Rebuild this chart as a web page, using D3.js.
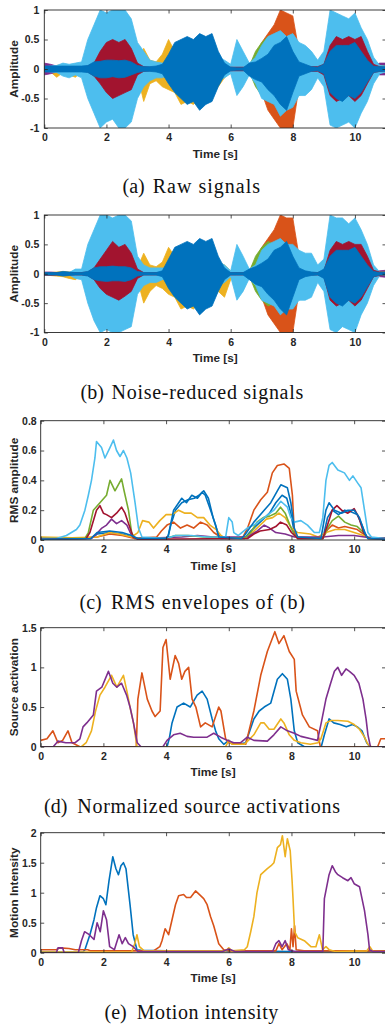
<!DOCTYPE html>
<html><head><meta charset="utf-8">
<script src="https://cdn.jsdelivr.net/npm/d3@7"></script>
<style>body{margin:0;background:#fff}svg{display:block}</style>
</head><body>
<script>
// ---------- shared ----------
const xTicks = [0, 2, 4, 6, 8, 10];
// envelope sample grid for (a),(b): 0,0.2,...,11 s (56 samples)
const tGrid = d3.range(56).map(i => +(i * 0.2).toFixed(1));

// ---------- (a) Raw signals : upper / lower envelopes ----------
const aLightBlueUp = [0.04,0.05,0.06,0.10,0.08,0.10,0.12, 0.50,0.75,1.00,0.95,1.00,1.00,1.00,0.85,0.45,0.30,0.15,0.12,0.10, 0.10,0.30,0.30,0.30,0.30,0.30,0.30,0.30,0.20,0.15,0.08,0.50,0.30,0.10, 0.20,0.40,0.55,0.60,0.65,0.55,0.60,0.45,0.40,0.30,0.15,0.30,1.00,0.95,0.90,0.85,0.95,0.70,0.50,0.20,0.06,0.05];
const aLightBlueLo = [-0.04,-0.05,-0.06,-0.12,-0.15,-0.10,-0.15, -0.50,-0.75,-1.00,-0.90,-0.85,-1.00,-1.00,-0.90,-0.50,-0.30,-0.20,-0.15,-0.15, -0.10,-0.30,-0.30,-0.30,-0.30,-0.30,-0.30,-0.30,-0.20,-0.15,-0.08,-0.45,-0.30,-0.10, -0.25,-0.50,-0.55,-0.60,-0.80,-0.70,-0.65,-0.45,-0.45,-0.35,-0.15,-0.30,-0.95,-1.00,-0.95,-0.90,-1.00,-0.75,-0.55,-0.25,-0.08,-0.05];
const aDarkRedUp = [0.03,0.03,0.03,0.03,0.03,0.03,0.03, 0.05,0.10,0.30,0.45,0.50,0.45,0.50,0.35,0.10,0.04,0.03,0.03,0.03, 0.03,0.03,0.03,0.03,0.03,0.03,0.03,0.03,0.03,0.03,0.03,0.03,0.03,0.03, 0.04,0.08,0.12,0.15,0.15,0.15,0.10,0.06,0.05,0.04,0.04,0.08,0.40,0.55,0.50,0.55,0.50,0.55,0.30,0.08,0.04,0.03];
const aDarkRedLo = [-0.03,-0.03,-0.03,-0.03,-0.03,-0.03,-0.03, -0.05,-0.12,-0.25,-0.40,-0.50,-0.45,-0.40,-0.35,-0.10,-0.04,-0.03,-0.03,-0.03, -0.03,-0.03,-0.03,-0.03,-0.03,-0.03,-0.03,-0.03,-0.03,-0.03,-0.03,-0.03,-0.03,-0.03, -0.04,-0.08,-0.12,-0.15,-0.15,-0.15,-0.10,-0.06,-0.05,-0.04,-0.04,-0.10,-0.45,-0.55,-0.50,-0.45,-0.55,-0.45,-0.25,-0.06,-0.04,-0.03];
const aBlueUp = [0.05,0.05,0.05,0.05,0.05,0.05,0.05, 0.06,0.12,0.13,0.15,0.15,0.14,0.15,0.12,0.06,0.04,0.04,0.05,0.08, 0.25,0.45,0.50,0.55,0.50,0.60,0.55,0.60,0.30,0.10,0.03,0.02,0.02,0.10, 0.12,0.18,0.25,0.40,0.45,0.55,0.30,0.12,0.08,0.04,0.03,0.08,0.30,0.40,0.40,0.40,0.45,0.30,0.15,0.05,0.04,0.04];
const aBlueLo = [-0.05,-0.05,-0.05,-0.05,-0.05,-0.05,-0.05, -0.06,-0.12,-0.15,-0.15,-0.13,-0.15,-0.14,-0.10,-0.06,-0.04,-0.04,-0.05,-0.08, -0.25,-0.40,-0.50,-0.60,-0.55,-0.70,-0.60,-0.55,-0.30,-0.10,-0.03,-0.02,-0.02,-0.12, -0.18,-0.22,-0.35,-0.45,-0.60,-0.70,-0.40,-0.12,-0.08,-0.04,-0.03,-0.08,-0.40,-0.50,-0.55,-0.45,-0.50,-0.40,-0.22,-0.06,-0.04,-0.04];
const aYellowUp = [0.03,0.05,0.06,0.08,0.06,0.05,0.04, 0.04,0.04,0.10,0.10,0.10,0.10,0.10,0.10,0.10,0.35,0.15,0.12,0.25, 0.50,0.30,0.30,0.30,0.30,0.30,0.30,0.30,0.20,0.10,0.05,0.04,0.04,0.04, 0.10,0.20,0.30,0.30,0.30,0.30,0.25,0.15,0.10,0.05,0.04,0.05,0.10,0.10,0.10,0.10,0.10,0.10,0.05,0.04,0.04,0.04];
const aYellowLo = [-0.04,-0.05,-0.14,-0.06,-0.10,-0.14,-0.05, -0.04,-0.04,-0.10,-0.10,-0.10,-0.10,-0.10,-0.10,-0.10,-0.55,-0.25,-0.20,-0.30, -0.35,-0.40,-0.60,-0.55,-0.60,-0.50,-0.40,-0.45,-0.30,-0.15,-0.05,-0.04,-0.04,-0.04, -0.10,-0.20,-0.30,-0.30,-0.30,-0.30,-0.30,-0.45,-0.40,-0.10,-0.04,-0.05,-0.10,-0.10,-0.10,-0.10,-0.10,-0.10,-0.05,-0.04,-0.04,-0.04];
const aOrangeUp = [0.03,0.03,0.03,0.03,0.03,0.03,0.03, 0.03,0.03,0.03,0.03,0.03,0.03,0.03,0.03,0.03,0.03,0.03,0.03,0.03, 0.03,0.03,0.03,0.03,0.03,0.03,0.03,0.03,0.03,0.03,0.03,0.03,0.03,0.05, 0.25,0.45,0.60,0.75,1.00,0.95,0.90,0.30,0.08,0.03,0.03,0.03,0.03,0.03,0.03,0.03,0.03,0.03,0.03,0.03,0.03,0.03];
const aOrangeLo = [-0.03,-0.03,-0.03,-0.03,-0.03,-0.03,-0.03, -0.03,-0.03,-0.03,-0.03,-0.03,-0.03,-0.03,-0.03,-0.03,-0.03,-0.03,-0.03,-0.03, -0.03,-0.03,-0.03,-0.03,-0.03,-0.03,-0.03,-0.03,-0.03,-0.03,-0.03,-0.03,-0.03,-0.05, -0.20,-0.40,-0.70,-0.85,-1.00,-1.00,-1.00,-0.30,-0.08,-0.03,-0.03,-0.03,-0.03,-0.03,-0.03,-0.03,-0.03,-0.03,-0.03,-0.03,-0.03,-0.03];
const aGreenAmp = [0.04,0.04,0.04,0.04,0.04,0.04,0.04, 0.04,0.20,0.45,0.45,0.45,0.45,0.45,0.50,0.20,0.04,0.04,0.04,0.04, 0.10,0.20,0.20,0.20,0.20,0.20,0.20,0.20,0.10,0.05,0.04,0.04,0.04,0.05, 0.30,0.45,0.55,0.50,0.50,0.40,0.30,0.10,0.05,0.04,0.04,0.05,0.30,0.30,0.30,0.30,0.30,0.30,0.10,0.06,0.06,0.05];
const aPurpleAmp = [0.10,0.08,0.05,0.05,0.04,0.03,0.03, 0.03,0.05,0.20,0.20,0.20,0.20,0.20,0.15,0.05,0.03,0.03,0.03,0.03, 0.03,0.03,0.03,0.03,0.03,0.03,0.03,0.03,0.03,0.03,0.03,0.03,0.03,0.03, 0.03,0.05,0.05,0.05,0.05,0.05,0.03,0.03,0.03,0.03,0.03,0.03,0.05,0.10,0.10,0.10,0.10,0.10,0.05,0.06,0.10,0.10];

// ---------- (b) Noise-reduced signals ----------
const bLightBlueUp = [0.01,0.01,0.01,0.01,0.02,0.08,0.08, 0.50,0.75,1.00,1.00,0.95,1.00,1.00,0.90,0.30,0.15,0.10,0.10,0.10, 0.10,0.30,0.30,0.30,0.30,0.30,0.30,0.30,0.20,0.15,0.05,0.50,0.30,0.08, 0.15,0.40,0.50,0.55,0.60,0.50,0.50,0.40,0.35,0.35,0.15,0.25,1.00,0.95,0.95,0.85,0.95,0.75,0.50,0.15,0.03,0.02];
const bLightBlueLo = [-0.01,-0.01,-0.01,-0.01,-0.02,-0.08,-0.10, -0.50,-0.80,-1.00,-0.95,-1.00,-1.00,-0.95,-0.90,-0.35,-0.20,-0.15,-0.15,-0.10, -0.10,-0.30,-0.30,-0.30,-0.30,-0.30,-0.30,-0.30,-0.20,-0.15,-0.05,-0.45,-0.30,-0.08, -0.20,-0.45,-0.50,-0.55,-0.70,-0.60,-0.60,-0.45,-0.45,-0.40,-0.15,-0.30,-0.95,-1.00,-0.90,-0.95,-1.00,-0.70,-0.50,-0.20,-0.03,-0.02];
const bDarkRedUp = [0.02,0.02,0.02,0.02,0.02,0.02,0.02, 0.03,0.10,0.25,0.40,0.55,0.45,0.50,0.35,0.08,0.02,0.02,0.02,0.02, 0.02,0.02,0.02,0.02,0.02,0.02,0.02,0.02,0.02,0.02,0.02,0.02,0.02,0.02, 0.04,0.08,0.12,0.15,0.15,0.15,0.10,0.05,0.03,0.02,0.02,0.05,0.40,0.55,0.50,0.55,0.50,0.50,0.30,0.06,0.03,0.02];
const bDarkRedLo = [-0.02,-0.02,-0.02,-0.02,-0.02,-0.02,-0.02, -0.03,-0.10,-0.25,-0.35,-0.40,-0.45,-0.38,-0.30,-0.08,-0.02,-0.02,-0.02,-0.02, -0.02,-0.02,-0.02,-0.02,-0.02,-0.02,-0.02,-0.02,-0.02,-0.02,-0.02,-0.02,-0.02,-0.02, -0.04,-0.08,-0.12,-0.15,-0.15,-0.15,-0.10,-0.05,-0.03,-0.02,-0.02,-0.05,-0.45,-0.55,-0.50,-0.45,-0.55,-0.45,-0.25,-0.05,-0.03,-0.02];
const bBlueUp = [0.02,0.02,0.02,0.04,0.03,0.02,0.02, 0.04,0.10,0.12,0.12,0.13,0.12,0.12,0.10,0.04,0.02,0.02,0.02,0.05, 0.25,0.45,0.50,0.55,0.50,0.60,0.55,0.60,0.30,0.10,0.02,0.02,0.02,0.08, 0.12,0.18,0.25,0.40,0.45,0.55,0.30,0.10,0.05,0.03,0.02,0.08,0.30,0.40,0.40,0.40,0.45,0.30,0.15,0.04,0.02,0.02];
const bBlueLo = [-0.02,-0.02,-0.02,-0.04,-0.03,-0.02,-0.02, -0.04,-0.10,-0.12,-0.13,-0.12,-0.12,-0.13,-0.10,-0.04,-0.02,-0.02,-0.02,-0.05, -0.25,-0.40,-0.50,-0.60,-0.55,-0.70,-0.60,-0.55,-0.30,-0.10,-0.02,-0.02,-0.02,-0.10, -0.18,-0.22,-0.35,-0.45,-0.60,-0.70,-0.40,-0.10,-0.05,-0.03,-0.02,-0.08,-0.40,-0.50,-0.55,-0.45,-0.50,-0.40,-0.22,-0.05,-0.02,-0.02];
const bYellowUp = [0.01,0.02,0.03,0.04,0.03,0.02,0.01, 0.02,0.02,0.08,0.08,0.08,0.08,0.08,0.08,0.10,0.35,0.15,0.12,0.20, 0.45,0.30,0.30,0.30,0.30,0.30,0.30,0.30,0.20,0.15,0.05,0.02,0.02,0.03, 0.10,0.20,0.30,0.30,0.30,0.30,0.25,0.15,0.10,0.04,0.02,0.04,0.08,0.08,0.08,0.08,0.08,0.08,0.04,0.02,0.02,0.02];
const bYellowLo = [-0.01,-0.03,-0.04,-0.05,-0.08,-0.10,-0.02, -0.02,-0.02,-0.08,-0.08,-0.08,-0.08,-0.08,-0.08,-0.10,-0.50,-0.30,-0.20,-0.25, -0.35,-0.40,-0.60,-0.55,-0.60,-0.50,-0.40,-0.45,-0.30,-0.40,-0.10,-0.02,-0.02,-0.03, -0.10,-0.20,-0.30,-0.30,-0.30,-0.30,-0.30,-0.45,-0.35,-0.08,-0.02,-0.04,-0.08,-0.08,-0.08,-0.08,-0.08,-0.08,-0.04,-0.02,-0.02,-0.02];
const bOrangeUp = [0.02,0.02,0.02,0.02,0.02,0.02,0.02, 0.02,0.02,0.02,0.02,0.02,0.02,0.02,0.02,0.02,0.02,0.02,0.02,0.02, 0.02,0.02,0.02,0.02,0.02,0.02,0.02,0.02,0.02,0.02,0.02,0.02,0.02,0.04, 0.25,0.45,0.60,0.75,1.00,0.95,0.95,0.30,0.06,0.02,0.02,0.02,0.02,0.02,0.02,0.02,0.02,0.02,0.02,0.02,0.02,0.02];
const bOrangeLo = [-0.02,-0.02,-0.02,-0.02,-0.02,-0.02,-0.02, -0.02,-0.02,-0.02,-0.02,-0.02,-0.02,-0.02,-0.02,-0.02,-0.02,-0.02,-0.02,-0.02, -0.02,-0.02,-0.02,-0.02,-0.02,-0.02,-0.02,-0.02,-0.02,-0.02,-0.02,-0.02,-0.02,-0.04, -0.20,-0.40,-0.70,-0.85,-1.00,-1.00,-1.00,-0.30,-0.06,-0.02,-0.02,-0.02,-0.02,-0.02,-0.02,-0.02,-0.02,-0.02,-0.02,-0.02,-0.02,-0.02];
const bGreenAmp = [0.02,0.02,0.02,0.02,0.02,0.02,0.02, 0.03,0.20,0.45,0.45,0.45,0.45,0.45,0.50,0.20,0.02,0.02,0.02,0.02, 0.10,0.20,0.20,0.20,0.20,0.20,0.20,0.20,0.10,0.05,0.02,0.02,0.02,0.04, 0.30,0.45,0.55,0.50,0.50,0.40,0.30,0.10,0.04,0.02,0.02,0.04,0.30,0.30,0.30,0.30,0.30,0.30,0.10,0.04,0.03,0.03];
const bPurpleAmp = [0.03,0.03,0.02,0.02,0.02,0.02,0.02, 0.02,0.05,0.20,0.20,0.20,0.20,0.20,0.15,0.05,0.02,0.02,0.02,0.02, 0.02,0.02,0.02,0.02,0.02,0.02,0.02,0.02,0.02,0.02,0.02,0.02,0.02,0.02, 0.02,0.05,0.05,0.05,0.05,0.05,0.02,0.02,0.02,0.02,0.02,0.02,0.05,0.10,0.10,0.10,0.10,0.10,0.04,0.04,0.05,0.06];

// ---------- (c) RMS envelopes : [time, value] ----------
const cBlue1 = [[0,0.005],[1.6,0.01],[1.8,0.04],[2.2,0.05],[2.6,0.04],[2.9,0.02],[3.1,0.01],[4.05,0.01],[4.15,0.1],[4.3,0.2],[4.5,0.25],[4.7,0.27],[4.9,0.28],[5.05,0.3],[5.2,0.33],[5.35,0.28],[5.5,0.15],[5.65,0.05],[5.75,0.01],[6.5,0.01],[6.7,0.06],[7.0,0.12],[7.3,0.18],[7.5,0.25],[7.7,0.3],[7.85,0.28],[7.98,0.18],[8.09,0.05],[8.2,0.01],[9.0,0.01],[9.15,0.15],[9.3,0.2],[9.5,0.17],[9.7,0.2],[9.9,0.19],[10.1,0.17],[10.25,0.1],[10.4,0.02],[11,0.005]];
const cOrange = [[0,0.015],[0.9,0.015],[1.1,0.01],[1.8,0.02],[2.2,0.04],[2.6,0.03],[3.0,0.01],[3.7,0.02],[3.85,0.06],[4.03,0.1],[4.24,0.12],[4.46,0.08],[4.67,0.1],[4.88,0.08],[5.1,0.12],[5.31,0.1],[5.52,0.05],[5.74,0.02],[6.0,0.01],[6.45,0.02],[6.6,0.08],[6.8,0.2],[7.02,0.27],[7.23,0.32],[7.39,0.45],[7.55,0.5],[7.76,0.51],[7.93,0.48],[8.03,0.3],[8.09,0.05],[8.2,0.01],[9.0,0.01],[9.15,0.07],[9.3,0.1],[9.5,0.08],[9.7,0.09],[9.9,0.08],[10.1,0.07],[10.3,0.04],[10.45,0.01],[11,0.01]];
const cYellow = [[0,0.02],[1.0,0.015],[1.8,0.02],[2.2,0.05],[2.5,0.04],[2.9,0.02],[3.1,0.05],[3.25,0.13],[3.45,0.12],[3.6,0.08],[3.8,0.13],[4.0,0.17],[4.2,0.17],[4.4,0.2],[4.6,0.18],[4.8,0.18],[5.0,0.15],[5.2,0.15],[5.4,0.1],[5.6,0.07],[5.75,0.03],[5.9,0.01],[6.6,0.02],[6.8,0.06],[7.0,0.1],[7.2,0.14],[7.4,0.15],[7.6,0.18],[7.8,0.15],[8.0,0.08],[8.2,0.05],[8.6,0.04],[8.85,0.02],[9.1,0.05],[9.4,0.07],[9.7,0.07],[10.0,0.05],[10.3,0.03],[10.5,0.01],[11,0.01]];
const cPurple = [[0,0.005],[1.6,0.01],[1.78,0.04],[1.95,0.08],[2.1,0.1],[2.26,0.14],[2.42,0.11],[2.58,0.13],[2.75,0.1],[2.9,0.03],[3.05,0.01],[4.5,0.02],[5.0,0.03],[5.5,0.02],[6.6,0.02],[6.9,0.06],[7.13,0.1],[7.3,0.08],[7.5,0.05],[7.8,0.04],[8.1,0.02],[9.0,0.02],[9.5,0.03],[10.0,0.03],[10.5,0.015],[11,0.015]];
const cGreen = [[0,0.01],[1.41,0.01],[1.52,0.05],[1.68,0.2],[1.89,0.25],[2.1,0.3],[2.21,0.4],[2.37,0.33],[2.58,0.41],[2.66,0.33],[2.8,0.2],[2.9,0.05],[3.0,0.01],[4.0,0.01],[4.3,0.03],[4.7,0.03],[5.2,0.02],[6.5,0.01],[6.7,0.05],[6.9,0.12],[7.1,0.15],[7.3,0.16],[7.5,0.18],[7.65,0.22],[7.8,0.18],[7.95,0.1],[8.1,0.03],[8.3,0.01],[9.0,0.01],[9.15,0.08],[9.3,0.13],[9.5,0.16],[9.7,0.12],[9.9,0.1],[10.1,0.09],[10.3,0.05],[10.45,0.01],[11,0.01]];
const cLightBlue = [[0,0.01],[0.5,0.01],[0.82,0.03],[1.14,0.07],[1.25,0.1],[1.41,0.2],[1.52,0.3],[1.62,0.4],[1.73,0.55],[1.78,0.66],[1.94,0.62],[2.05,0.55],[2.21,0.62],[2.32,0.67],[2.42,0.6],[2.53,0.56],[2.64,0.6],[2.75,0.55],[2.87,0.45],[3.01,0.25],[3.12,0.08],[3.23,0.02],[4.0,0.01],[4.3,0.03],[4.8,0.03],[5.3,0.02],[5.9,0.02],[6.0,0.15],[6.11,0.12],[6.16,0.05],[6.3,0.03],[6.59,0.08],[6.8,0.1],[7.13,0.15],[7.44,0.2],[7.66,0.26],[7.87,0.22],[7.98,0.15],[8.09,0.12],[8.3,0.13],[8.51,0.1],[8.73,0.05],[8.89,0.05],[9.0,0.15],[9.1,0.4],[9.2,0.5],[9.3,0.52],[9.48,0.47],[9.69,0.45],[9.85,0.4],[9.96,0.43],[10.12,0.38],[10.22,0.35],[10.33,0.2],[10.44,0.05],[10.55,0.02],[11,0.01]];
const cDarkRed = [[0,0.005],[1.45,0.01],[1.57,0.05],[1.78,0.2],[1.89,0.23],[2.0,0.18],[2.1,0.17],[2.26,0.15],[2.42,0.18],[2.58,0.22],[2.69,0.18],[2.85,0.08],[2.95,0.02],[3.1,0.005],[6.6,0.01],[6.8,0.04],[7.0,0.06],[7.3,0.07],[7.5,0.09],[7.65,0.12],[7.85,0.1],[8.0,0.05],[8.2,0.01],[9.0,0.01],[9.15,0.1],[9.3,0.2],[9.45,0.23],[9.6,0.2],[9.8,0.18],[10.0,0.21],[10.15,0.15],[10.3,0.05],[10.45,0.01],[11,0.005]];
const cBlue8 = [[0,0.005],[1.6,0.01],[1.8,0.05],[2.2,0.06],[2.6,0.05],[2.9,0.03],[3.1,0.01],[4.0,0.01],[4.07,0.03],[4.24,0.2],[4.5,0.28],[4.65,0.25],[4.82,0.3],[5.0,0.28],[5.15,0.32],[5.25,0.3],[5.42,0.2],[5.58,0.1],[5.68,0.02],[6.4,0.01],[6.5,0.03],[6.8,0.12],[7.13,0.2],[7.34,0.25],[7.55,0.33],[7.66,0.37],[7.87,0.35],[7.98,0.25],[8.09,0.08],[8.2,0.02],[8.94,0.01],[9.1,0.2],[9.2,0.25],[9.37,0.2],[9.6,0.18],[9.8,0.2],[10.0,0.2],[10.17,0.15],[10.33,0.05],[10.44,0.01],[11,0.005]];

// ---------- (d) Normalized source activations ----------
const dBlue = [[0,0],[4.03,0],[4.1,0.1],[4.19,0.3],[4.35,0.5],[4.56,0.55],[4.77,0.5],[4.99,0.65],[5.15,0.7],[5.31,0.6],[5.47,0.35],[5.58,0.2],[5.68,0.1],[5.84,0.03],[6.0,0.08],[6.1,0.04],[6.3,0.03],[6.54,0.05],[6.8,0.35],[6.97,0.45],[7.13,0.5],[7.34,0.55],[7.55,0.85],[7.71,0.92],[7.87,0.85],[7.98,0.6],[8.09,0.2],[8.2,0.05],[8.41,0],[8.95,0],[9.05,0.15],[9.2,0.35],[9.35,0.3],[9.55,0.28],[9.75,0.25],[9.95,0.28],[10.1,0.25],[10.25,0.2],[10.4,0.05],[10.5,0],[11,0]];
const dOrange = [[0,0.08],[0.2,0.1],[0.39,0.2],[0.55,0.05],[0.7,0.08],[0.87,0.2],[1.0,0.05],[1.25,0],[3.05,0],[3.1,0.6],[3.23,0.93],[3.4,0.6],[3.55,0.45],[3.65,0.38],[3.81,0.45],[3.9,1.25],[4.0,1.35],[4.13,0.85],[4.29,1.15],[4.4,1.05],[4.5,0.85],[4.6,0.95],[4.72,1.0],[4.83,0.6],[4.95,0.5],[5.1,0.25],[5.25,0.3],[5.47,0.25],[5.68,0.5],[5.75,0.45],[5.9,0.1],[6.0,0.05],[6.54,0.03],[6.8,0.45],[7.02,0.9],[7.23,1.2],[7.47,1.45],[7.6,1.3],[7.76,1.4],[7.93,1.2],[8.09,1.1],[8.15,0.7],[8.35,0.4],[8.57,0.25],[8.83,0.2],[8.92,0],[10.75,0],[10.85,0.1],[11,0.1]];
const dYellow = [[0,0],[1.3,0],[1.45,0.05],[1.62,0.2],[1.75,0.45],[1.89,0.65],[2.05,0.75],[2.26,0.9],[2.43,0.75],[2.64,0.9],[2.75,0.7],[2.85,0.5],[2.96,0.3],[3.07,0],[5.9,0],[6.0,0.08],[6.1,0.03],[6.5,0.03],[6.8,0.15],[7.02,0.3],[7.13,0.3],[7.29,0.22],[7.44,0.22],[7.66,0.35],[7.76,0.3],[7.93,0.15],[8.09,0.08],[8.3,0.05],[8.6,0.03],[8.85,0.05],[8.94,0.1],[9.1,0.3],[9.26,0.33],[9.48,0.33],[9.8,0.32],[10.0,0.28],[10.17,0.22],[10.33,0.12],[10.44,0.03],[10.55,0],[11,0]];
const dPurple = [[0,0],[0.4,0],[0.55,0.07],[0.8,0.05],[1.1,0.05],[1.25,0.1],[1.35,0.25],[1.47,0.3],[1.68,0.4],[1.78,0.7],[1.95,0.75],[2.16,0.95],[2.3,0.8],[2.43,0.75],[2.58,0.8],[2.74,0.65],[2.85,0.5],[2.96,0.3],[3.08,0.05],[3.2,0],[3.9,0],[4.03,0.08],[4.24,0.15],[4.45,0.17],[4.67,0.13],[4.88,0.12],[5.31,0.12],[5.52,0.17],[5.74,0.12],[5.95,0.08],[6.16,0.05],[6.38,0.05],[6.59,0.12],[6.8,0.08],[7.23,0.07],[7.44,0.15],[7.66,0.25],[7.87,0.2],[8.09,0.17],[8.3,0.13],[8.62,0.1],[8.83,0.08],[8.95,0.3],[9.1,0.6],[9.25,0.8],[9.37,0.95],[9.48,1.0],[9.6,0.9],[9.74,0.98],[9.85,0.95],[10.0,0.9],[10.15,0.8],[10.28,0.6],[10.38,0.35],[10.44,0.15],[10.52,0],[11,0]];

// ---------- (e) Motion intensity ----------
const eBlue = [[0,0.01],[1.35,0.01],[1.41,0.05],[1.57,0.3],[1.7,0.55],[1.78,0.75],[1.89,0.95],[2.0,0.9],[2.08,0.8],[2.18,1.2],[2.3,1.6],[2.4,1.4],[2.48,1.3],[2.56,1.45],[2.64,1.5],[2.72,1.4],[2.85,0.8],[2.95,0.3],[3.07,0.05],[3.2,0.04],[4,0.03],[6,0.03],[8,0.02],[11,0.02]];
const eOrange = [[0,0.05],[0.5,0.05],[0.6,0.08],[0.9,0.07],[1.1,0.05],[1.5,0.05],[1.6,0.03],[3.6,0.03],[3.8,0.1],[3.87,0.2],[3.97,0.4],[4.08,0.3],[4.19,0.55],[4.3,0.8],[4.4,0.95],[4.56,0.97],[4.65,0.92],[4.78,0.92],[4.94,1.03],[5.1,0.95],[5.2,0.9],[5.31,0.8],[5.42,0.6],[5.52,0.45],[5.68,0.15],[5.84,0.05],[6.0,0.03],[7.5,0.03],[7.6,0.15],[7.7,0.05],[7.85,0.15],[7.95,0.05],[8.0,0.4],[8.05,0.1],[8.1,0.45],[8.15,0.05],[8.4,0.03],[11,0.03]];
const eYellow = [[0,0.01],[2.9,0.01],[3.0,0.15],[3.07,0.3],[3.15,0.1],[3.3,0.03],[5.9,0.03],[6.0,0.08],[6.1,0.03],[6.5,0.05],[6.59,0.1],[6.7,0.35],[6.8,0.6],[6.9,1.0],[7.02,1.3],[7.23,1.4],[7.35,1.45],[7.44,1.5],[7.55,1.75],[7.65,1.8],[7.71,1.95],[7.8,1.6],[7.87,1.9],[7.96,1.7],[8.02,1.2],[8.05,0.9],[8.1,0.35],[8.2,0.25],[8.41,0.2],[8.62,0.1],[8.78,0.1],[8.89,0.3],[8.99,0.05],[9.1,0.1],[9.2,0.05],[9.4,0.02],[10.4,0.03],[10.5,0.1],[10.6,0.02],[11,0.02]];
const ePurple = [[0,0],[0.5,0],[0.55,0.08],[0.7,0.08],[0.75,0],[1.2,0],[1.3,0.2],[1.4,0.35],[1.55,0.3],[1.7,0.22],[1.8,0.5],[1.9,0.35],[2.0,0.7],[2.1,0.55],[2.2,0.1],[2.35,0.05],[2.5,0.3],[2.6,0.15],[2.7,0.25],[2.8,0.15],[2.95,0.1],[3.1,0.02],[5.8,0.02],[6.0,0.06],[6.2,0.02],[7.4,0.02],[7.5,0.15],[7.6,0.2],[7.7,0.1],[7.8,0.2],[7.9,0.05],[8.1,0.02],[9.0,0.02],[9.05,0.9],[9.2,1.3],[9.3,1.45],[9.4,1.35],[9.48,1.3],[9.63,1.25],[9.8,1.2],[9.9,1.25],[10.0,1.15],[10.17,1.1],[10.33,0.7],[10.44,0.3],[10.49,0.05],[10.6,0.02],[11,0.02]];

// ---------- drawing ----------
const COL = {blue:"#0072BD", orange:"#D95319", yellow:"#EDB120", purple:"#7E2F8E", green:"#77AC30", lightblue:"#4DBEEE", darkred:"#A2142F"};
const AX = "#262626";
const SANS = "'Liberation Sans', Arial, Helvetica, sans-serif";
const SERIF = "'Liberation Serif', 'Times New Roman', Times, serif";
const svg = d3.select("body").append("svg").attr("width", 385).attr("height", 1025);
const fmt = d => String(d);

function panel(p) {
  const x = d3.scaleLinear().domain([0, 11]).range([p.left, p.right]);
  const y = d3.scaleLinear().domain(p.yDomain).range([p.bottom, p.top]);
  const g = svg.append("g");
  svg.append("clipPath").attr("id", "clip" + p.id).append("rect")
    .attr("x", p.left).attr("y", p.top).attr("width", p.right - p.left).attr("height", p.bottom - p.top);
  const plot = g.append("g").attr("clip-path", `url(#clip${p.id})`);

  const axes = g.append("g").attr("font-family", SANS);
  axes.append("g").attr("transform", `translate(0,${p.bottom})`)
    .call(d3.axisBottom(x).tickValues(xTicks).tickSize(-3.5).tickSizeOuter(0).tickPadding(6).tickFormat(fmt));
  axes.append("g").attr("transform", `translate(0,${p.top})`)
    .call(d3.axisTop(x).tickValues(xTicks).tickSize(-3.5).tickSizeOuter(0).tickFormat(""));
  axes.append("g").attr("transform", `translate(${p.left},0)`)
    .call(d3.axisLeft(y).tickValues(p.yTicks).tickSize(-3.5).tickSizeOuter(0).tickPadding(p.pad).tickFormat(fmt));
  axes.append("g").attr("transform", `translate(${p.right},0)`)
    .call(d3.axisRight(y).tickValues(p.yTicks).tickSize(-3.5).tickSizeOuter(0).tickFormat(""));
  axes.selectAll(".domain").remove();
  axes.selectAll(".tick line").attr("stroke", AX).attr("stroke-width", 0.8);
  axes.selectAll(".tick text").attr("fill", AX).attr("font-size", "10.5px").attr("font-weight", "bold").attr("font-family", SANS);
  axes.append("rect").attr("x", p.left).attr("y", p.top).attr("width", p.right - p.left).attr("height", p.bottom - p.top)
    .attr("fill", "none").attr("stroke", AX).attr("stroke-width", 0.9);

  axes.append("text").attr("x", (p.left + p.right) / 2).attr("y", p.bottom + 29.5)
    .attr("text-anchor", "middle").attr("font-size", "11.8px").attr("font-weight", "bold").attr("fill", AX).text("Time [s]");
  axes.append("text").attr("transform", `translate(17.5,${(p.top + p.bottom) / 2}) rotate(-90)`)
    .attr("text-anchor", "middle").attr("font-size", "11.8px").attr("font-weight", "bold").attr("fill", AX).text(p.yLabel);

  const cap = svg.append("text").attr("y", p.capY).attr("font-family", SERIF).attr("font-size", "20px").attr("fill", "#111");
  cap.append("tspan").attr("x", p.cap[0]).text(p.capTag);
  cap.append("tspan").attr("x", p.cap[1]).attr("textLength", p.cap[2] - p.cap[1]).attr("lengthAdjust", "spacing").text(p.capText);
  return {x, y, plot};
}

function drawEnvelopes(P, chans) {
  chans.forEach(c => {
    const area = d3.area().x((d, i) => P.x(tGrid[i])).y0((d, i) => P.y(c.lo[i])).y1((d, i) => P.y(c.up[i]));
    P.plot.append("path").datum(c.up).attr("d", area)
      .attr("fill", c.color).attr("stroke", c.color).attr("stroke-width", 0.8).attr("stroke-linejoin", "miter");
  });
}
function drawLines(P, series) {
  const line = d3.line().x(d => P.x(d[0])).y(d => P.y(d[1]));
  series.forEach(s => {
    P.plot.append("path").datum(s.data).attr("d", line)
      .attr("fill", "none").attr("stroke", s.color).attr("stroke-width", 1.6).attr("stroke-linejoin", "round");
  });
}
const neg = a => a.map(v => -v);

// (a)
const PA = panel({id:"a", left:44.3, right:386, top:10, bottom:128, yDomain:[-1,1], yTicks:[-1,-0.5,0,0.5,1], pad:5,
  yLabel:"Amplitude", capY:193, capTag:"(a)", capText:"Raw signals", cap:[122.5,152.7,260]});
drawEnvelopes(PA, [
  {color:COL.orange, up:aOrangeUp, lo:aOrangeLo},
  {color:COL.yellow, up:aYellowUp, lo:aYellowLo},
  {color:COL.purple, up:aPurpleAmp, lo:neg(aPurpleAmp)},
  {color:COL.green, up:aGreenAmp, lo:neg(aGreenAmp)},
  {color:COL.lightblue, up:aLightBlueUp, lo:aLightBlueLo},
  {color:COL.darkred, up:aDarkRedUp, lo:aDarkRedLo},
  {color:COL.blue, up:aBlueUp, lo:aBlueLo}
]);

// (b)
const PB = panel({id:"b", left:44.3, right:386, top:215, bottom:332.5, yDomain:[-1,1], yTicks:[-1,-0.5,0,0.5,1], pad:5,
  yLabel:"Amplitude", capY:399, capTag:"(b)", capText:"Noise-reduced signals", cap:[80.5,111.5,303.3]});
drawEnvelopes(PB, [
  {color:COL.orange, up:bOrangeUp, lo:bOrangeLo},
  {color:COL.yellow, up:bYellowUp, lo:bYellowLo},
  {color:COL.purple, up:bPurpleAmp, lo:neg(bPurpleAmp)},
  {color:COL.green, up:bGreenAmp, lo:neg(bGreenAmp)},
  {color:COL.lightblue, up:bLightBlueUp, lo:bLightBlueLo},
  {color:COL.darkred, up:bDarkRedUp, lo:bDarkRedLo},
  {color:COL.blue, up:bBlueUp, lo:bBlueLo}
]);

// (c)
const PC = panel({id:"c", left:40.7, right:385.5, top:420.7, bottom:540, yDomain:[0,0.8], yTicks:[0,0.2,0.4,0.6,0.8], pad:4,
  yLabel:"RMS amplitude", capY:608.5, capTag:"(c)", capText:"RMS envelopes of (b)", cap:[79.5,111,305]});
drawLines(PC, [
  {color:COL.blue, data:cBlue1}, {color:COL.orange, data:cOrange}, {color:COL.yellow, data:cYellow},
  {color:COL.purple, data:cPurple}, {color:COL.green, data:cGreen}, {color:COL.lightblue, data:cLightBlue},
  {color:COL.darkred, data:cDarkRed}, {color:COL.blue, data:cBlue8}
]);

// (d)
const PD = panel({id:"d", left:40.7, right:385.5, top:627.7, bottom:746.7, yDomain:[0,1.5], yTicks:[0,0.5,1,1.5], pad:4,
  yLabel:"Source activation", capY:812.5, capTag:"(d)", capText:"Normalized source activations", cap:[44,77.3,340]});
drawLines(PD, [
  {color:COL.blue, data:dBlue}, {color:COL.orange, data:dOrange}, {color:COL.yellow, data:dYellow}, {color:COL.purple, data:dPurple}
]);

// (e)
const PE = panel({id:"e", left:40.7, right:385.5, top:832.7, bottom:952.7, yDomain:[0,2], yTicks:[0,0.5,1,1.5,2], pad:4,
  yLabel:"Motion Intensity", capY:1019, capTag:"(e)", capText:"Motion intensity", cap:[104.5,136.7,278.3]});
drawLines(PE, [
  {color:COL.blue, data:eBlue}, {color:COL.orange, data:eOrange}, {color:COL.yellow, data:eYellow}, {color:COL.purple, data:ePurple}
]);
</script>
</body></html>
